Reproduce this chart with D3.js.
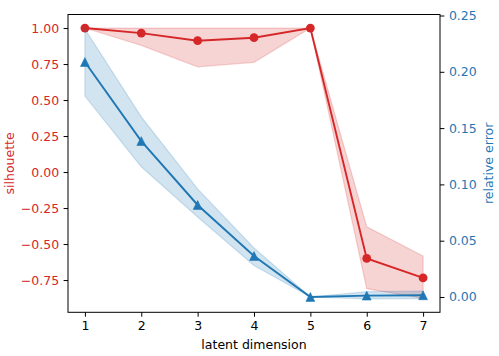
<!DOCTYPE html>
<html>
<head>
<meta charset="utf-8">
<script src="https://cdn.jsdelivr.net/npm/d3@7"></script>
<style>
  body { margin: 0; background: #fff; }
  text { font-family: "DejaVu Sans", sans-serif; }
</style>
</head>
<body>
<div id="container"></div>
<script>
const dims = [1, 2, 3, 4, 5, 6, 7];
const silhouette = [1.0, 0.965, 0.912, 0.933, 1.0, -0.60, -0.735];
const silhouetteHi = [1.0, 1.0, 1.0, 1.0, 1.0, -0.38, -0.583];
const silhouetteLo = [1.0, 0.88, 0.731, 0.762, 1.0, -0.81, -0.877];
const relError = [0.2087, 0.1385, 0.0817, 0.0364, 0.0, 0.0012, 0.0015];
const relErrorHi = [0.238, 0.160, 0.096, 0.0435, 0.0, 0.0047, 0.0053];
const relErrorLo = [0.1785, 0.1157, 0.071, 0.028, 0.0, -0.0016, -0.0015];
const leftTicks = [-0.75, -0.5, -0.25, 0, 0.25, 0.5, 0.75, 1.0];
const rightTicks = [0, 0.05, 0.1, 0.15, 0.2, 0.25];

const red = '#d62728';
const blue = '#1f77b4';
const margin = { top: 14.5, right: 59, bottom: 43.7, left: 68 };
const W = 499, H = 356;
const width = W - margin.left - margin.right;
const height = H - margin.top - margin.bottom;

const x = d3.scaleLinear().domain([0.7, 7.3]).range([0, width]);
const yL = d3.scaleLinear().domain([-0.974, 1.094]).range([height, 0]);
const yR = d3.scaleLinear().domain([-0.0136, 0.2509]).range([height, 0]);

const svg = d3.select('#container').append('svg')
  .attr('width', W).attr('height', H);
const g = svg.append('g')
  .attr('transform', `translate(${margin.left}, ${margin.top})`);

function series(vals, lo, hi, y, color, marker) {
  const rows = dims.map((d, i) => ({ d, v: vals[i], lo: lo[i], hi: hi[i] }));
  g.append('path').datum(rows)
    .attr('d', d3.area().x(r => x(r.d)).y0(r => y(r.lo)).y1(r => y(r.hi)))
    .attr('fill', color).attr('fill-opacity', 0.2)
    .attr('stroke', color).attr('stroke-opacity', 0.2).attr('stroke-width', 1.2);
  g.append('path').datum(rows)
    .attr('d', d3.line().x(r => x(r.d)).y(r => y(r.v)))
    .attr('fill', 'none').attr('stroke', color).attr('stroke-width', 1.9);
  if (marker === 'circle') {
    g.append('g').selectAll('circle').data(rows).enter().append('circle')
      .attr('cx', r => x(r.d)).attr('cy', r => y(r.v)).attr('r', 4.4)
      .attr('fill', color);
  } else {
    const s = 4.4;
    g.append('g').selectAll('path').data(rows).enter().append('path')
      .attr('d', `M0,${-s}L${-s},${s}L${s},${s}Z`)
      .attr('transform', r => `translate(${x(r.d)}, ${y(r.v)})`)
      .attr('fill', color).attr('stroke', color).attr('stroke-width', 0.6);
  }
}

series(silhouette, silhouetteLo, silhouetteHi, yL, red, 'circle');
series(relError, relErrorLo, relErrorHi, yR, blue, 'triangle');

// frame
g.append('rect').attr('width', width).attr('height', height)
  .attr('fill', 'none').attr('stroke', '#000').attr('stroke-width', 1);

const fmt2 = d3.format('.2f');
const minusFmt = v => fmt2(v).replace('-', '\u2212');

const axB = g.append('g').attr('transform', `translate(0, ${height})`)
  .call(d3.axisBottom(x).tickValues(dims).tickFormat(d3.format('d')).tickSize(4.4).tickPadding(4.5));
const axL = g.append('g')
  .call(d3.axisLeft(yL).tickValues(leftTicks).tickFormat(minusFmt).tickSize(4.4).tickPadding(4.5));
const axR = g.append('g').attr('transform', `translate(${width}, 0)`)
  .call(d3.axisRight(yR).tickValues(rightTicks).tickFormat(fmt2).tickSize(4.4).tickPadding(4.5));

[axB, axL, axR].forEach(a => {
  a.select('.domain').remove();
  a.selectAll('text').style('font-size', '12.5px').style('font-family', '"DejaVu Sans", sans-serif');
  a.selectAll('line').attr('stroke', '#000').attr('stroke-width', 1);
});
axB.selectAll('text').attr('fill', '#000');
axL.selectAll('text').attr('fill', red);
axR.selectAll('text').attr('fill', blue);

svg.append('text')
  .attr('x', margin.left + width / 2).attr('y', 349)
  .attr('text-anchor', 'middle').style('font-size', '12.5px')
  .text('latent dimension');

svg.append('text')
  .attr('transform', `translate(14, ${margin.top + height / 2}) rotate(-90)`)
  .attr('text-anchor', 'middle').style('font-size', '12.5px')
  .attr('fill', red)
  .text('silhouette');

svg.append('text')
  .attr('transform', `translate(493, ${margin.top + height / 2}) rotate(-90)`)
  .attr('text-anchor', 'middle').style('font-size', '12.5px')
  .attr('fill', blue)
  .text('relative error');
</script>
</body>
</html>
